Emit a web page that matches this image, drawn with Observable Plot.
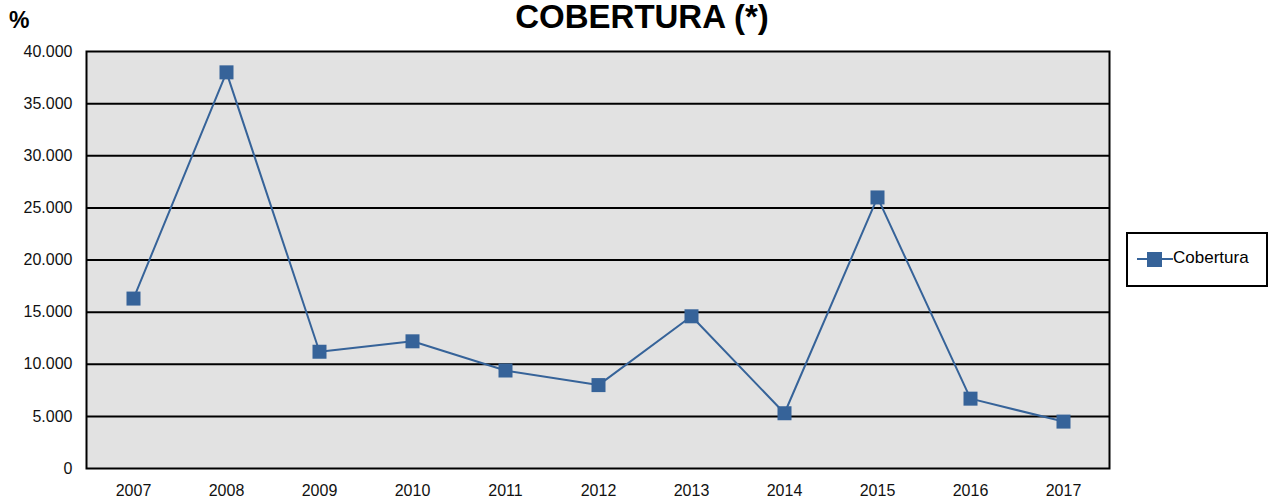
<!DOCTYPE html>
<html>
<head>
<meta charset="utf-8">
<script src="https://cdn.jsdelivr.net/npm/d3@7"></script>
<script src="https://cdn.jsdelivr.net/npm/@observablehq/plot@0.6"></script>
<style>
  html, body { margin: 0; padding: 0; background: #fff; }
  #wrap { position: relative; width: 1280px; height: 500px; font-family: "Liberation Sans", Arial, sans-serif; }
  #title { position: absolute; left: 0; width: 1284px; top: 0px; line-height: 1; text-align: center; font-weight: bold; font-size: 33px; color: #000; }
  #pct { position: absolute; left: 9px; top: 9px; line-height: 1; font-weight: bold; font-size: 23px; color: #000; }
  #legend { position: absolute; left: 1126px; top: 232px; width: 138px; height: 51px; border: 2px solid #000; background: #fff; }
  #legend svg { position: absolute; left: 0; top: 0; }
</style>
</head>
<body>
<div id="wrap">
  <div id="chart"></div>
  <div id="title">COBERTURA (*)</div>
  <div id="pct">%</div>
  <div id="legend"></div>
</div>
<script>
const years = ["2007","2008","2009","2010","2011","2012","2013","2014","2015","2016","2017"];
const cobertura = [16300, 38000, 11200, 12200, 9400, 8000, 14600, 5300, 26000, 6700, 4500];
const yTicks = [0, 5000, 10000, 15000, 20000, 25000, 30000, 35000, 40000];
const seriesName = "Cobertura";

const color = "#366399";
const data = years.map((y, i) => ({year: y, value: cobertura[i]}));
const locale = d3.formatLocale({decimal: ",", thousands: ".", grouping: [3], currency: ["", ""]});
const fmt = locale.format(",");

const chart = Plot.plot({
  width: 1280,
  height: 500,
  marginLeft: 86,
  marginRight: 171,
  marginTop: 51,
  marginBottom: 32,
  style: {fontFamily: "Liberation Sans, Arial, sans-serif", fontSize: "16px", color: "#111", background: "transparent"},
  x: {type: "point", domain: years, padding: 0.5, label: null, tickSize: 0, tickPadding: 16},
  y: {domain: [0, 40000], ticks: yTicks, tickFormat: fmt, label: null, tickSize: 0, tickPadding: 14},
  marks: [
    Plot.frame({fill: "#e2e2e2", stroke: null}),
    Plot.ruleY(yTicks.slice(1, -1), {stroke: "#000", strokeWidth: 2}),
    Plot.frame({stroke: "#000", strokeWidth: 2}),
    Plot.line(data, {x: "year", y: "value", stroke: color, strokeWidth: 2}),
    Plot.dot(data, {x: "year", y: "value", symbol: "square", r: 7.9, fill: color, stroke: null})
  ]
});
document.getElementById("chart").appendChild(chart);

// legend
const lg = d3.select("#legend").append("svg").attr("width", 138).attr("height", 51);
lg.append("line").attr("x1", 9).attr("x2", 45).attr("y1", 25).attr("y2", 25).attr("stroke", color).attr("stroke-width", 2);
lg.append("rect").attr("x", 19).attr("y", 18).attr("width", 15).attr("height", 15).attr("fill", color);
lg.append("text").attr("x", 45).attr("y", 29).attr("font-size", 17).attr("font-family", "Liberation Sans, Arial, sans-serif").attr("fill", "#000").text(seriesName);
</script>
</body>
</html>
